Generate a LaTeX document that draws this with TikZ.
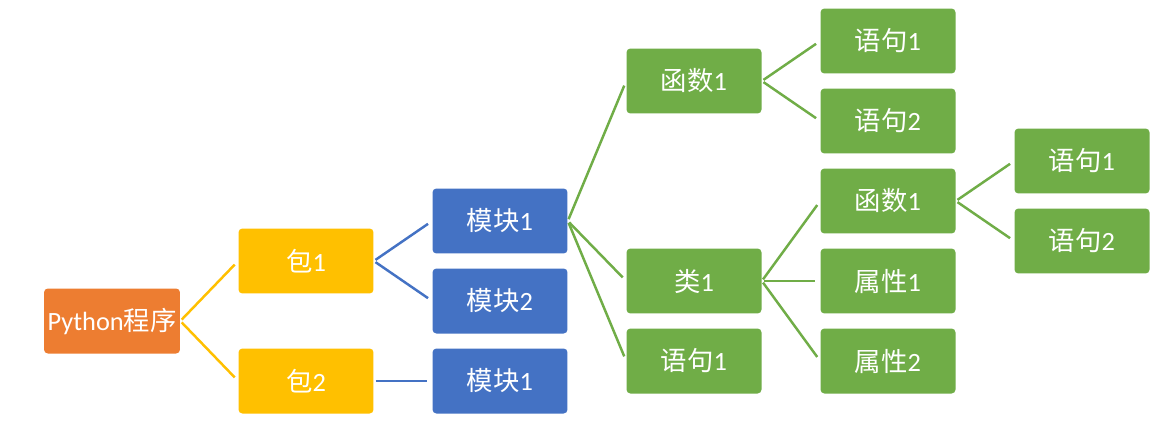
\documentclass[tikz,border=0pt]{standalone}
\usepackage{fontspec}
\usepackage{tikz}
\usetikzlibrary{positioning}
\setmainfont{Carlito}
\newfontfamily\cjk{Noto Sans CJK SC}
\definecolor{progorange}{HTML}{ED7D31}
\definecolor{pkgyellow}{HTML}{FFC000}
\definecolor{modblue}{HTML}{4472C4}
\definecolor{itemgreen}{HTML}{70AD47}
\tikzset{
  treebox/.style={rounded corners=2.2pt,minimum width=2.7cm,minimum height=1.3cm,
                  inner sep=2pt,align=center,text=white,font=\fontsize{15}{17}\selectfont},
  progbox/.style={treebox,fill=progorange},
  pkgbox/.style={treebox,fill=pkgyellow},
  modbox/.style={treebox,fill=modblue},
  itembox/.style={treebox,fill=itemgreen},
  treeline/.style={line width=1.4pt,shorten <=0.04cm,shorten >=0.1cm}
}

\begin{document}
\begin{tikzpicture}[x=0.02cm,y=-0.02cm]
  \useasboundingbox[fill=white] (0,0) rectangle (1168,426);
  % root and packages
  \node[progbox] (prog) at (112,321) {Python{\cjk 程序}};
  \node[pkgbox] (pkgA) at (306,261) {{\cjk 包}1};
  \node[pkgbox] (pkgB) at (306,381) {{\cjk 包}2};
  % modules
  \node[modbox] (modA) at (500,221) {{\cjk 模块}1};
  \node[modbox] (modB) at (500,301) {{\cjk 模块}2};
  \node[modbox] (modC) at (500,381) {{\cjk 模块}1};
  % contents of the first module
  \node[itembox] (funcA) at (694,81) {{\cjk 函数}1};
  \node[itembox] (classA) at (694,281) {{\cjk 类}1};
  \node[itembox] (stmtA) at (694,361) {{\cjk 语句}1};
  \node[itembox] (funcAstA) at (888,41) {{\cjk 语句}1};
  \node[itembox] (funcAstB) at (888,121) {{\cjk 语句}2};
  \node[itembox] (methA) at (888,201) {{\cjk 函数}1};
  \node[itembox] (attrA) at (888,281) {{\cjk 属性}1};
  \node[itembox] (attrB) at (888,361) {{\cjk 属性}2};
  \node[itembox] (methAstA) at (1082,161) {{\cjk 语句}1};
  \node[itembox] (methAstB) at (1082,241) {{\cjk 语句}2};
  % connectors
  \foreach \a/\b in {prog/pkgA,prog/pkgB}
    \draw[treeline,pkgyellow] (\a.east) -- (\b.west);
  \foreach \a/\b in {pkgA/modA,pkgA/modB,pkgB/modC}
    \draw[treeline,modblue] (\a.east) -- (\b.west);
  \foreach \a/\b in {modA/funcA,modA/classA,modA/stmtA,funcA/funcAstA,funcA/funcAstB,
                     classA/methA,classA/attrA,classA/attrB,methA/methAstA,methA/methAstB}
    \draw[treeline,itemgreen] (\a.east) -- (\b.west);
\end{tikzpicture}
\end{document}
